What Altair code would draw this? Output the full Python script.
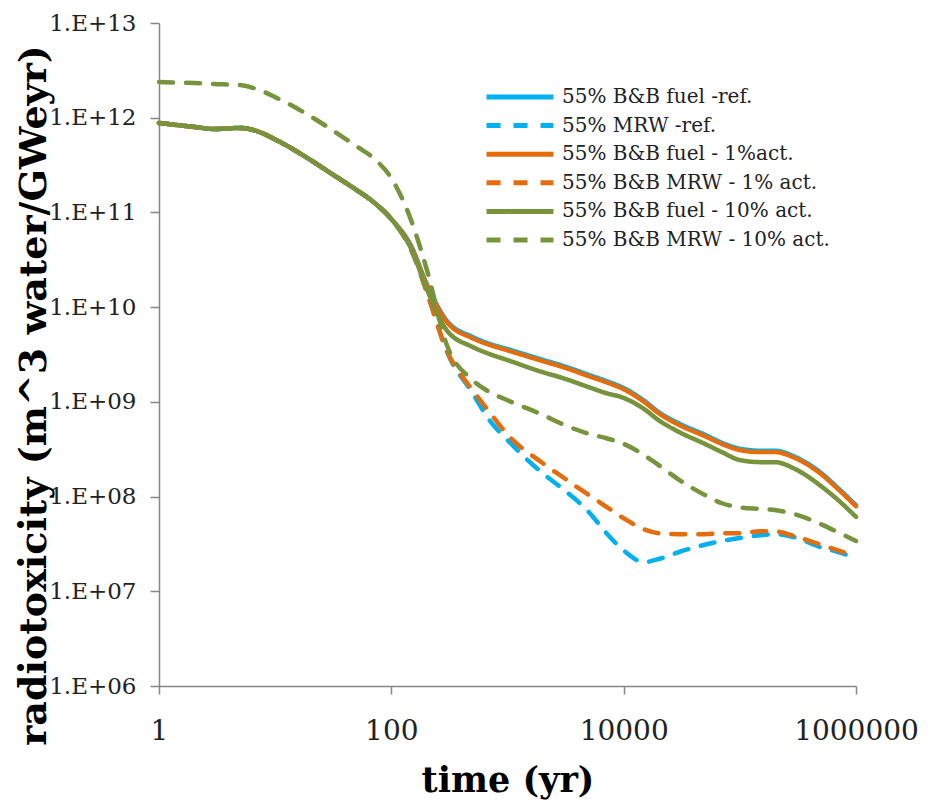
import altair as alt
import pandas as pd

time_yr = [1, 2, 3, 5, 7, 10, 20, 30, 50, 70, 100, 150, 200, 300, 500, 700,
           1000, 2000, 3000, 5000, 7000, 10000, 15000, 20000, 30000, 50000, 70000,
           100000, 150000, 200000, 300000, 500000, 700000, 1000000]

fuel_ref = [8.8e11, 8.0e11, 7.6e11, 7.8e11, 7.2e11, 5.9e11, 3.6e11, 2.6e11, 1.73e11, 1.29e11,
            8.5e10, 4.3e10, 1.8e10, 7.2e9, 4.85e9, 4.1e9, 3.6e9, 2.78e9, 2.4e9, 1.93e9,
            1.67e9, 1.40e9, 1.03e9, 7.8e8, 5.9e8, 4.5e8, 3.7e8, 3.2e8, 3.05e8, 3.05e8,
            2.62e8, 1.78e8, 1.23e8, 8.1e7]
mrw_ref = [8.8e11, 8.0e11, 7.6e11, 7.8e11, 7.2e11, 5.9e11, 3.6e11, 2.6e11, 1.73e11, 1.29e11,
           8.5e10, 3.9e10, 1.5e10, 3.4e9, 1.24e9, 6.4e8, 3.95e8, 1.77e8, 1.2e8, 6.9e7,
           4.2e7, 2.7e7, 2.03e7, 2.19e7, 2.6e7, 3.1e7, 3.4e7, 3.65e7, 3.9e7, 4.0e7,
           3.7e7, 2.9e7, 2.6e7, 2.24e7]
fuel_1 = [8.8e11, 8.0e11, 7.6e11, 7.8e11, 7.2e11, 5.9e11, 3.6e11, 2.6e11, 1.73e11, 1.29e11,
          8.5e10, 4.2e10, 1.75e10, 7.0e9, 4.7e9, 4.0e9, 3.5e9, 2.7e9, 2.33e9, 1.87e9,
          1.62e9, 1.36e9, 1.0e9, 7.6e8, 5.7e8, 4.35e8, 3.6e8, 3.1e8, 2.95e8, 2.95e8,
          2.55e8, 1.73e8, 1.2e8, 7.9e7]
mrw_1 = [8.8e11, 8.0e11, 7.6e11, 7.8e11, 7.2e11, 5.9e11, 3.6e11, 2.6e11, 1.73e11, 1.29e11,
         8.5e10, 3.9e10, 1.5e10, 3.5e9, 1.33e9, 7.8e8, 4.5e8, 2.26e8, 1.6e8, 1.04e8,
         7.9e7, 5.9e7, 4.5e7, 4.1e7, 4.0e7, 4.0e7, 4.1e7, 4.1e7, 4.3e7, 4.3e7,
         3.8e7, 3.1e7, 2.7e7, 2.36e7]
fuel_10 = [8.8e11, 8.0e11, 7.6e11, 7.8e11, 7.2e11, 5.9e11, 3.6e11, 2.6e11, 1.73e11, 1.29e11,
           8.5e10, 4.0e10, 1.6e10, 5.7e9, 3.8e9, 3.2e9, 2.76e9, 2.06e9, 1.78e9, 1.43e9,
           1.24e9, 1.10e9, 8.4e8, 6.4e8, 4.8e8, 3.6e8, 2.95e8, 2.43e8, 2.31e8, 2.31e8,
           1.95e8, 1.29e8, 9.2e7, 6.1e7]
mrw_10 = [2.38e12, 2.32e12, 2.27e12, 2.21e12, 2.0e12, 1.65e12, 1.04e12, 7.6e11, 5.0e11, 3.75e11,
          2.3e11, 7.9e10, 2.6e10, 4.0e9, 1.7e9, 1.27e9, 1.04e9, 7.3e8, 5.8e8, 4.6e8,
          4.15e8, 3.6e8, 2.74e8, 2.15e8, 1.5e8, 1.04e8, 8.5e7, 7.7e7, 7.4e7, 7.2e7,
          6.5e7, 5.1e7, 4.2e7, 3.4e7]

series_names = ["55% B&B fuel -ref.", "55% MRW -ref.", "55% B&B fuel - 1%act.",
                "55% B&B MRW - 1% act.", "55% B&B fuel - 10% act.", "55% B&B MRW - 10% act."]
series_values = [fuel_ref, mrw_ref, fuel_1, mrw_1, fuel_10, mrw_10]
series_colors = ["#00B0F0", "#00B0F0", "#E46C0A", "#E46C0A", "#77933C", "#77933C"]
series_dashes = [[1, 0], [14, 13], [1, 0], [14, 13], [1, 0], [14, 13]]

x_ticks = [1, 100, 10000, 1000000]
y_ticks = [1e6, 1e7, 1e8, 1e9, 1e10, 1e11, 1e12, 1e13]

rows = []
for name, vals in zip(series_names, series_values):
    for i, (t, v) in enumerate(zip(time_yr, vals)):
        rows.append({"series": name, "time": t, "value": v, "idx": i})
df = pd.DataFrame(rows)

legend_opts = dict(title=None, orient="none", legendX=350, legendY=63,
                   symbolType="M-4,0H4", symbolSize=280, symbolStrokeWidth=5,
                   labelFont="DejaVu Serif", labelFontSize=20, labelColor="#222222",
                   labelLimit=500, labelOffset=31, rowPadding=7.6, padding=0)

chart = alt.Chart(df).mark_line(
    strokeWidth=4.5, strokeCap="round", interpolate="monotone"
).encode(
    x=alt.X("time:Q",
            scale=alt.Scale(type="log", domain=[1, 1000000], nice=False),
            axis=alt.Axis(values=x_ticks, format="d", title="time (yr)",
                          grid=False, tickSize=8, labelPadding=23, labelFlush=False,
                          labelFontSize=28, titleFontSize=35,
                          titleY=94, titleBaseline="middle")),
    y=alt.Y("value:Q",
            scale=alt.Scale(type="log", domain=[1e6, 1e13], nice=False),
            axis=alt.Axis(values=y_ticks, grid=False, tickSize=9, labelPadding=14,
                          labelExpr="'1.E+' + format(round(log(datum.value)/LN10), '02d')",
                          labelFontSize=23, title="radiotoxicity (m^3 water/GWeyr)",
                          titleFontSize=38, titleX=-125, titleY=372,
                          titleAlign="center", titleBaseline="middle", titleAngle=270)),
    color=alt.Color("series:N",
                    scale=alt.Scale(domain=series_names, range=series_colors),
                    legend=alt.Legend(**legend_opts)),
    strokeDash=alt.StrokeDash("series:N",
                              scale=alt.Scale(domain=series_names, range=series_dashes),
                              legend=alt.Legend(**legend_opts)),
    order="idx:Q",
).properties(
    width=697, height=663,
    autosize=alt.AutoSizeParams(type="none"),
    padding={"left": 151, "top": 15, "right": 62, "bottom": 118},
).configure_view(
    stroke=None
).configure_axis(
    labelFont="DejaVu Serif", titleFont="DejaVu Serif", titleFontWeight="bold",
    labelColor="#222222", titleColor="#000000",
    domainColor="#868686", tickColor="#868686", domainWidth=1.5, tickWidth=1.5,
)

chart.save("out.html", embed_options={"renderer": "svg", "actions": False})
